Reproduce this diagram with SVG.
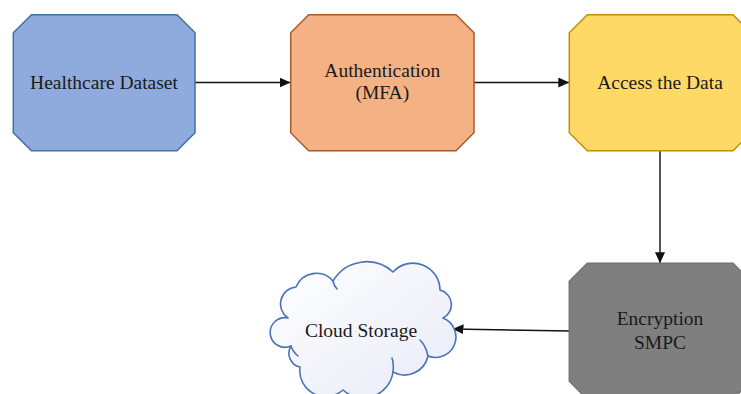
<svg xmlns="http://www.w3.org/2000/svg" width="741" height="394" viewBox="0 0 741 394">
  <style>
    .label { font-family: "Liberation Serif", "Times New Roman", serif; font-size: 19.5px; fill: #1a1a1a; text-anchor: middle; }
    .edge { stroke: #111; stroke-width: 1.4; fill: none; marker-end: url(#arrow); }
    .cloud { fill: url(#cloudFill); stroke: #4a72b8; stroke-width: 1.6; stroke-linejoin: round; }
    .curl { fill: none; stroke: #4a72b8; stroke-width: 1.6; stroke-linecap: round; }
  </style>
  <defs>
    <marker id="arrow" markerUnits="userSpaceOnUse" markerWidth="12" markerHeight="10" refX="11" refY="5" orient="auto">
      <path d="M0,0 L11,5 L0,10 Z" fill="#111"/>
    </marker>
    <linearGradient id="cloudFill" x1="0" y1="0" x2="1" y2="1">
      <stop offset="0" stop-color="#ffffff"/>
      <stop offset="1" stop-color="#e8ebf7"/>
    </linearGradient>
  </defs>

  <rect width="741" height="394" fill="#ffffff"/>

  <!-- connectors -->
  <g id="connectors">
    <line class="edge" x1="195" y1="82.5" x2="290.5" y2="82.5"/>
    <line class="edge" x1="474" y1="82.5" x2="569.3" y2="82.5"/>
    <line class="edge" x1="660" y1="151" x2="660" y2="263.3"/>
    <line class="edge" x1="569.3" y1="331" x2="452.5" y2="329"/>
  </g>

  <!-- octagon nodes -->
  <g id="healthcare-dataset">
    <path d="M31.5,14.7 H177 L195,32.7 V132.7 L177,150.7 H31.5 L13.3,132.7 V32.7 Z" fill="#8faadc" stroke="#41719c" stroke-width="1.5"/>
    <text class="label" x="104" y="88.5">Healthcare Dataset</text>
  </g>

  <g id="authentication">
    <path d="M308.7,14.7 H456 L474,32.7 V132.7 L456,150.7 H308.7 L290.7,132.7 V32.7 Z" fill="#f4b183" stroke="#a65b29" stroke-width="1.5"/>
    <text class="label" x="382.3" y="76.7">Authentication</text>
    <text class="label" x="382.3" y="99.3">(MFA)</text>
  </g>

  <g id="access-data">
    <path d="M587.3,14.7 H733 L751,32.7 V132.7 L733,150.7 H587.3 L569.3,132.7 V32.7 Z" fill="#ffd966" stroke="#bf9000" stroke-width="1.5"/>
    <text class="label" x="660" y="88.5">Access the Data</text>
  </g>

  <g id="encryption">
    <path d="M587.3,263.3 H733 L751,281.3 V381.3 L733,399.3 H587.3 L569.3,381.3 V281.3 Z" fill="#7f7f7f" stroke="#737373" stroke-width="1.5"/>
    <text class="label" x="660" y="325">Encryption</text>
    <text class="label" x="660" y="349">SMPC</text>
  </g>

  <!-- cloud node -->
  <g id="cloud-storage">
    <path class="cloud" d="M288,318
      A17,17 0 0 1 296,287
      A22,22 0 0 1 333,281
      A39,39 0 0 1 393,272
      A27,27 0 0 1 440,290
      A15,15 0 0 1 443,318
      A20,20 0 0 1 428,356
      A24,24 0 0 1 393,372
      A30,30 0 0 1 343,390
      A26,26 0 0 1 300,367
      A14,14 0 0 1 291,346
      A14.8,14.8 0 1 1 288,318 Z"/>
    <path class="curl" d="M333,281 Q334,286 337,289"/>
    <path class="curl" d="M428,356 Q426,346 420,340"/>
    <path class="curl" d="M291,346 Q293,352 298,356"/>
    <path class="curl" d="M393,372 Q394,364 392,358"/>
    <text class="label" x="361" y="336.7">Cloud Storage</text>
  </g>
</svg>
